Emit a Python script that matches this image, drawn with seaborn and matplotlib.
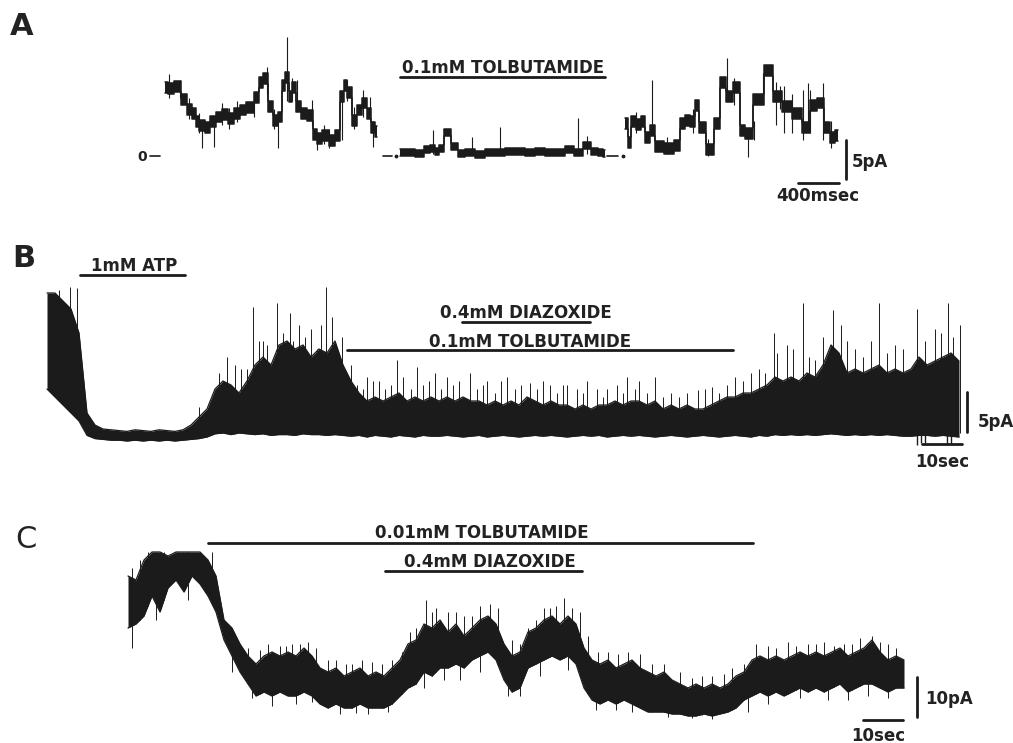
import numpy as np
import pandas as pd
import matplotlib
matplotlib.use("Agg")
import matplotlib.pyplot as plt
import seaborn as sns

sns.set_theme(style="white")
plt.rcParams["font.family"] = ["DejaVu Sans"]

INK = "#1b1b1b"
W, H = 1013, 743

# ---------------- Panel A: fast record (time in ms, current level in pA) ----------------
A1_T = [0, 60, 120, 195, 244, 290, 312, 360, 420, 468, 520, 586, 640, 703, 760, 830,
        898, 930, 980, 1025, 1074, 1122, 1160, 1191, 1220, 1260, 1298, 1347, 1420, 1464,
        1510, 1562, 1630, 1690, 1728, 1760, 1800, 1850, 1903, 1952, 2000, 2030, 2069]
A1_LVL = [8.8, 8.6, 8.9, 7.2, 6.0, 5.5, 4.4, 3.9, 3.6, 4.4, 5.0, 5.3, 4.8, 5.5, 5.9, 6.2,
          7.5, 9.4, 9.9, 6.3, 4.6, 5.0, 9.0, 10.1, 7.6, 8.8, 6.3, 5.5, 5.2, 2.8,
          2.2, 2.6, 2.0, 2.6, 7.6, 9.0, 8.1, 4.6, 5.9, 6.8, 5.5, 3.7, 3.2]

A2_T = [2294, 2390, 2490, 2560, 2616, 2650, 2700, 2752, 2830, 2880, 2977, 3074, 3172,
        3270, 3367, 3465, 3562, 3660, 3758, 3855, 3953, 4031, 4119, 4197, 4246, 4294]
A2_LVL = [0.4, 0.4, 0.3, 0.8, 0.9, 0.6, 1.0, 3.0, 1.2, 0.3, 0.4, 0.2, 0.5, 0.5, 0.6,
          0.6, 0.5, 0.6, 0.4, 0.4, 0.8, 0.5, 1.4, 0.6, 0.4, 0.3]

A3_T = [4490, 4538, 4568, 4617, 4666, 4700, 4763, 4802, 4929, 5000, 5046, 5095, 5150,
        5192, 5241, 5319, 5397, 5446, 5514, 5583, 5641, 5690, 5778, 5807, 5886, 5973,
        6071, 6168, 6266, 6325, 6400, 6461, 6520, 6568]
A3_LVL = [4.2, 1.7, 4.4, 4.0, 4.4, 2.4, 3.3, 1.2, 1.0, 1.3, 4.2, 4.6, 4.4, 6.5, 3.7,
          0.8, 4.2, 9.4, 7.6, 8.8, 3.3, 2.9, 7.2, 7.2, 11.0, 7.6, 6.3, 5.5, 3.7, 6.5,
          6.8, 3.7, 2.4, 2.6]

# brief openings/closings drawn as hairlines (time, from, to)
A_SPK_T = [40, 361, 478, 996, 1103, 1191, 1288, 1435, 1484, 1728, 1776, 2001, 2030,
           150, 230, 330, 560, 620, 700, 870, 1060, 1240, 1550, 1600, 1840, 1930,
           2616, 2996, 3270, 4031, 4119,
           4753, 5485, 5690, 5837, 5960, 6040, 6120, 6230, 6276, 6300, 6420, 6500,
           4600, 4900, 5150, 5300, 5550, 5750, 6000]
A_SPK_LO = [7.5, 1.0, 1.2, 8.0, 1.0, 7.0, 6.0, 4.0, 0.8, 2.0, 7.0, 5.0, 1.2,
            7.5, 4.8, 3.0, 4.0, 3.5, 4.3, 5.0, 3.5, 7.0, 1.5, 1.0, 3.5, 5.0,
            0.3, 0.3, 0.3, 0.3, 0.3,
            3.0, 8.0, -0.1, 7.0, 4.0, 3.0, 3.0, 2.0, 3.5, 3.0, 2.0, 1.0,
            3.0, 0.3, 3.0, 0.0, 6.5, 2.0, 6.0]
A_SPK_HI = [10.5, 4.5, 5.0, 11.4, 5.0, 15.3, 9.7, 7.2, 3.0, 8.0, 9.7, 7.6, 4.5,
            9.8, 7.5, 5.5, 6.8, 6.2, 7.0, 8.0, 6.0, 10.0, 4.0, 3.5, 6.3, 8.5,
            3.3, 2.4, 3.7, 4.9, 2.6,
            9.7, 12.6, 3.5, 10.6, 9.5, 9.0, 8.0, 8.5, 9.4, 8.5, 9.4, 4.5,
            5.6, 2.5, 6.0, 2.2, 10.0, 4.5, 9.0]
A_ZERO_DASH = [(2128, 2216), (4314, 4420)]
A_ZERO_DOT = [2255, 4470]
A_TOLB = (2294, 4294)

# ---------------- Panel B: slow record (time in s, current in pA) ----------------
B_T = np.arange(0, 230, 2)
B_HI = [18, 18, 17, 16, 13, 3, 1.5, 1.0, 0.9, 0.8,
        0.7, 0.9, 0.8, 0.7, 0.9, 0.8, 0.7, 0.9, 1.5, 2.5,
        3.5, 6.0, 7.0, 6.5, 5.5, 7.0, 9.0, 10.0, 9.0, 11.5,
        12.0, 11.0, 11.5, 10.0, 11.0, 10.5, 12.0, 9.0, 7.0, 5.5,
        4.5, 5.0, 4.5, 5.0, 5.5, 4.5, 5.0, 4.5, 5.0, 4.5,
        5.0, 4.5, 5.0, 4.5, 4.5, 4.0, 4.5, 4.0, 4.5, 4.0,
        5.0, 4.5, 4.0, 4.5, 4.0, 4.0, 3.5, 4.0, 3.5, 4.0,
        4.0, 4.5, 4.0, 4.5, 4.5, 4.0, 4.5, 3.5, 4.0, 3.5,
        4.0, 3.5, 3.5, 4.0, 4.5, 5.0, 5.0, 5.5, 5.5, 6.0,
        6.5, 7.5, 7.0, 7.5, 7.0, 8.0, 7.5, 9.0, 11.5, 10.5,
        8.0, 8.5, 8.0, 8.5, 9.0, 8.0, 8.5, 8.0, 8.5, 10.0,
        9.0, 9.5, 10.0, 10.5, 9.5]
B_LO = [6, 5, 4, 3, 2, 0.2, -0.2, -0.3, -0.4, -0.4,
        -0.5, -0.4, -0.5, -0.4, -0.5, -0.4, -0.5, -0.4, -0.3, -0.2,
        0.0, 0.4, 0.5, 0.3, 0.5, 0.4, 0.3, 0.4, 0.2, 0.3,
        0.3, 0.2, 0.4, 0.3, 0.3, 0.2, 0.3, 0.2, 0.1, 0.2,
        0.0, 0.2, 0.1, 0.0, 0.2, 0.1, 0.0, 0.2, 0.1, 0.1,
        0.2, 0.1, 0.0, 0.1, 0.2, 0.0, 0.1, 0.2, 0.1, 0.0,
        0.1, 0.2, 0.1, 0.2, 0.1, 0.0, 0.1, 0.2, 0.1, 0.2,
        0.0, 0.1, 0.2, 0.1, 0.2, 0.1, 0.0, 0.1, 0.2, 0.1,
        0.0, 0.1, 0.2, 0.1, 0.0, 0.1, 0.2, 0.1, 0.0, 0.2,
        0.1, 0.3, 0.2, 0.3, 0.2, 0.3, 0.2, 0.3, 0.4, 0.3,
        0.2, 0.3, 0.2, 0.3, 0.2, 0.3, 0.2, 0.1, 0.1, 0.2,
        0.2, 0.1, 0.2, 0.1, 0.0]
B_SPK_T = [3, 5.75, 7.5, 38, 45, 48.5, 51.5, 54, 57.5, 60.75,
           63, 66, 69.75, 71.25, 73.75, 76, 80, 83, 87.5, 92.5,
           97, 100, 105.75, 110, 115, 120.75, 125.75, 130, 135, 140,
           145, 148, 152, 162.75, 166.25, 172, 176, 178, 181.75, 185,
           189, 192, 196.5, 200, 204, 208, 212, 217.5, 222, 225.25,
           226.5, 228.25,
           43, 47, 50, 53, 55, 59, 61.5, 64.5, 67.5, 68.5, 72.5,
           182.5, 186.5, 190.5, 194, 198.5, 202, 206, 210, 214, 219.5, 223.5]
B_SPK_TOP = [18.4, 18.75, 18.6, 3.75, 10.0, 8.5, 16.25, 12.0, 16.75, 15.5,
             14.0, 13.5, 18.75, 15.0, 12.5, 9.0, 7.5, 7.0, 9.6, 8.75,
             8.0, 7.5, 8.0, 7.0, 7.5, 6.75, 6.5, 6.5, 7.0, 6.0,
             7.5, 7.0, 7.5, 5.9, 6.25, 7.5, 8.0, 8.5, 13.0, 11.5,
             16.75, 9.6, 15.9, 12.0, 10.0, 16.75, 11.5, 16.0, 13.5, 16.75,
             12.5, 14.0,
             8.0, 9.0, 8.5, 12.0, 11.5, 13.0, 12.0, 12.5, 11.0, 14.0, 11.0,
             10.5, 11.0, 10.0, 12.5, 14.0, 11.0, 12.0, 10.5, 11.0, 12.0, 13.0]
B_HAIR_T = [77.5, 79, 81.5, 84.5, 86, 89, 91, 94, 95.5, 98.5,
            101.5, 103, 107.5, 109, 112, 113.5, 117, 118.5, 122.5, 124,
            127.5, 129, 132.5, 134, 137.5, 139, 142.5, 144, 147, 150,
            154, 156, 158, 160, 164.5, 168, 170, 174, 179.5]
B_HAIR_TOP = [6.5, 6.0, 7.0, 6.0, 6.5, 7.5, 6.0, 6.5, 7.0, 6.0,
              6.5, 7.0, 6.0, 6.5, 5.5, 7.0, 6.0, 6.5, 6.0, 7.0,
              5.5, 6.5, 6.0, 5.5, 6.0, 5.0, 6.5, 5.5, 6.0, 5.5,
              5.0, 5.5, 5.0, 5.5, 6.0, 5.5, 6.5, 7.0, 8.0]
B_DN_T = [217.5, 218.5, 219.5, 225.0, 226.0]
B_DN_BOT = [-1.0, -0.8, -0.7, -1.0, -0.9]
B_ATP = (8.25, 34.5)
B_DIAZ = (103.75, 135.75)
B_TOLB = (75.0, 171.5)

# ---------------- Panel C: slow record (time in s, current in pA) ----------------
C_T = np.arange(0, 196, 2)
C_HI = [36, 35, 40, 42, 42, 41, 42, 42, 42, 42,
        40, 36, 25, 23, 19, 16, 14, 16, 17, 16,
        17, 16, 18, 16, 13, 12, 13, 11, 12, 13,
        11, 12, 11, 13, 15, 19, 20, 24, 23, 25,
        22, 24, 21, 23, 25, 26, 24, 19, 16, 17,
        22, 23, 25, 26, 24, 26, 24, 18, 15, 14,
        15, 13, 14, 15, 13, 12, 11, 12, 10, 9,
        8, 9, 8, 9, 8, 9, 11, 12, 15, 16,
        15, 16, 15, 16, 17, 16, 17, 16, 17, 18,
        16, 17, 18, 20, 17, 15, 16, 15]
C_LO = [23, 24, 26, 31, 27, 33, 35, 32, 36, 34,
        31, 27, 20, 16, 12, 9, 6, 7, 6, 7,
        6, 6, 7, 6, 4, 3, 4, 3, 3, 4,
        3, 3, 3, 4, 6, 8, 9, 12, 11, 13,
        13, 14, 13, 15, 16, 17, 15, 10, 7, 8,
        13, 14, 15, 16, 15, 16, 14, 8, 5, 4,
        5, 4, 5, 4, 3, 2, 2, 2, 1.5, 1.5,
        1, 1, 1.5, 1, 1.5, 2, 3, 5, 6, 7,
        6, 7, 6, 7, 8, 7, 8, 7, 8, 9,
        7, 8, 9, 9, 8, 7, 8, 8]
C_UP_T = [1, 5, 12.5, 21, 35, 38, 41, 45, 50, 56, 61, 66, 70.5, 74.5, 77, 80, 84, 88,
          90.5, 96, 100, 104, 107, 109, 111, 115, 120, 125, 131, 138, 146, 151, 157,
          160, 165, 170, 174, 179, 183, 186, 190,
          3, 9, 30, 33, 39.5, 43, 47, 52, 54.5, 58.5, 63.5, 68.5, 72, 76, 82, 86,
          92.5, 98, 102, 105.5, 113, 117.5, 122.5, 128, 134, 141, 143.5, 149, 154,
          162, 167, 172, 176.5, 181, 188, 192]
C_UP_TOP = [38, 42, 42, 42, 19, 18.5, 19, 19.5, 15, 14, 14.5, 15, 22, 30, 28, 27, 26,
            28.5, 29, 20, 23, 28, 28.5, 30.5, 28, 21, 17, 17, 14, 12, 11, 13, 19, 18.5,
            19.5, 19, 19.5, 19, 20.5, 21, 19,
            40, 42, 18, 17.5, 18.5, 19, 18, 15, 14, 15, 14, 17, 23, 27, 27, 26,
            28, 19, 25, 28, 27, 17, 16.5, 16.5, 14, 10.5, 11, 11.5, 14,
            18, 18.5, 19, 18.5, 19, 19.5, 18]
C_DN_T = [1, 7, 15, 26, 36, 42, 53, 60, 74, 83, 95, 98, 117, 126, 141, 160, 175, 185,
          31, 46, 57, 65, 79, 88, 103, 110, 122, 135, 146, 155, 168, 180, 190]
C_DN_BOT = [18, 25, 30, 12, 3.5, 4, 1.5, 1.5, 8, 10, 6, 6, 2.5, 2, 0.5, 4, 5, 6,
            5.5, 4.5, 1.8, 2, 10, 12, 11, 12.5, 2.5, 0.8, 0.3, 2, 5.5, 5, 5.5]
C_TOLB = (20.0, 156.25)
C_DIAZ = (64.25, 113.5)


fig = plt.figure(figsize=(W / 100, H / 100), dpi=100)
fig.patch.set_facecolor("white")


def panel_axes(x0, y0, sx, sy):
    """Full-figure transparent axes whose data origin sits at pixel (x0, y0)."""
    ax = fig.add_axes([0, 0, 1, 1])
    ax.patch.set_alpha(0)
    ax.axis("off")
    lims = ((-x0 / sx, (W - x0) / sx), ((y0 - H) / sy, y0 / sy))
    return ax, lims


def band(ax, t, lo, hi, step=None, edge=0.9):
    df = pd.DataFrame({"t": t, "lo": lo, "hi": hi})
    ax.fill_between(df["t"], df["lo"], df["hi"], color=INK, lw=0, step=step)
    ds = "steps-mid" if step == "mid" else "default"
    for col in ("hi", "lo"):
        sns.lineplot(data=df, x="t", y=col, ax=ax, color=INK, lw=edge,
                     drawstyle=ds, estimator=None, sort=False, legend=False)


def trace(ax, t, lvl, half=0.7):
    lvl = np.asarray(lvl, dtype=float)
    band(ax, t, lvl - half, lvl + half, step="mid", edge=1.1)


def hbar(ax, span, y, lw=2.0):
    sns.lineplot(x=list(span), y=[y, y], ax=ax, color=INK, lw=lw,
                 estimator=None, sort=False, legend=False)


def vbar(ax, x, span, lw=2.0):
    sns.lineplot(x=[x, x], y=list(span), ax=ax, color=INK, lw=lw,
                 estimator=None, sort=False, legend=False, orient="y")


def label(x, y, s, size=12, ha="center", weight="bold"):
    fig.text(x / W, 1 - y / H, s, ha=ha, va="baseline", fontsize=size,
             fontweight=weight, color="#222222")


# ---- A ----
axA, limA = panel_axes(165, 156, 1 / 9.76, 7.8)
trace(axA, A1_T, A1_LVL)
trace(axA, A2_T, A2_LVL, half=0.45)
trace(axA, A3_T, A3_LVL)
axA.vlines(A_SPK_T, A_SPK_LO, A_SPK_HI, color=INK, lw=0.8)
for t0, t1 in A_ZERO_DASH:
    hbar(axA, (t0, t1), 0.0, lw=1.2)
axA.scatter(A_ZERO_DOT, [0.0] * len(A_ZERO_DOT), s=3, color=INK)
hbar(axA, (-146, -49), 0.0, lw=1.2)
hbar(axA, A_TOLB, 10.13)
vbar(axA, 6647, (-2.95, -2.95 + 5))
hbar(axA, (6178, 6178 + 400), -3.46)
axA.set_xlim(*limA[0]); axA.set_ylim(*limA[1])

# ---- B ----
axB, limB = panel_axes(47, 437, 4.0, 8.0)
band(axB, B_T, B_LO, B_HI)
axB.vlines(B_SPK_T, np.interp(B_SPK_T, B_T, B_LO) + 0.5, B_SPK_TOP, color=INK, lw=0.7)
axB.vlines(B_HAIR_T, np.interp(B_HAIR_T, B_T, B_LO) + 0.5, B_HAIR_TOP, color=INK, lw=0.7)
axB.vlines(B_DN_T, B_DN_BOT, np.interp(B_DN_T, B_T, B_HI), color=INK, lw=1.0)
hbar(axB, B_ATP, 20.25)
hbar(axB, B_DIAZ, 14.375)
hbar(axB, B_TOLB, 10.875)
vbar(axB, 230.0, (0.6, 0.6 + 5))
hbar(axB, (218.75, 218.75 + 10), -0.875)
axB.set_xlim(*limB[0]); axB.set_ylim(*limB[1])

# ---- C ----
axC, limC = panel_axes(128, 720, 4.0, 4.0)
band(axC, C_T, C_LO, C_HI)
axC.vlines(C_UP_T, np.interp(C_UP_T, C_T, C_LO), C_UP_TOP, color=INK, lw=0.7)
axC.vlines(C_DN_T, C_DN_BOT, np.interp(C_DN_T, C_T, C_HI), color=INK, lw=0.7)
hbar(axC, C_TOLB, 44.25)
hbar(axC, C_DIAZ, 37.25)
vbar(axC, 197.25, (0.75, 0.75 + 10))
hbar(axC, (183.75, 183.75 + 10), 0.0)
axC.set_xlim(*limC[0]); axC.set_ylim(*limC[1])

# ---- text ----
label(10, 35, "A", size=22, ha="left")
label(12, 267, "B", size=22, ha="left")
label(15, 548, "C", size=22, ha="left", weight="normal")
label(137, 161, "0", size=10, ha="left")

label(503, 73, "0.1mM TOLBUTAMIDE")
label(852, 167, "5pA", ha="left")
label(818, 201, "400msec")

label(134, 271, "1mM ATP")
label(526, 318, "0.4mM DIAZOXIDE")
label(530, 347, "0.1mM TOLBUTAMIDE")
label(978, 427, "5pA", ha="left")
label(942, 467, "10sec")

label(482, 538, "0.01mM TOLBUTAMIDE")
label(490, 567, "0.4mM DIAZOXIDE")
label(925, 704, "10pA", ha="left")
label(878, 741, "10sec")

fig.savefig("out.png", dpi=100, facecolor="white")
